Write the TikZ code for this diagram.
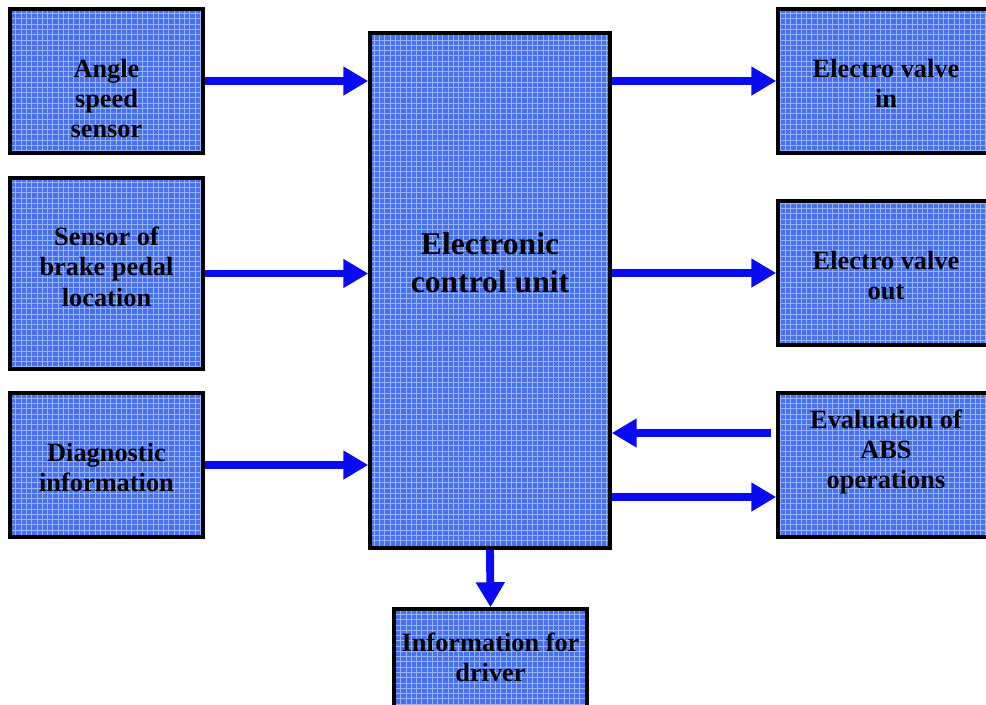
\documentclass[tikz,border=0pt]{standalone}
\usepackage{fontspec}
\setmainfont{Liberation Serif}
\usetikzlibrary{
	arrows.meta,
	patterns,
	positioning,
}
\definecolor{boxblue}{RGB}{72,112,235}
\definecolor{gridblue}{RGB}{150,180,255}
\definecolor{arrowblue}{RGB}{10,10,245}
\tikzset{block node/.style={
	draw=black,
	rectangle,
	line width=2pt,
	preaction={fill=boxblue},
	pattern=grid,
	pattern color=gridblue,
	minimum width=3.86cm,
	minimum height=2.88cm,
}}
\tikzset{block text/.style={
	align=center,
	inner sep=0pt,
	font=\fontsize{15}{17.3}\selectfont\bfseries,
}}
\tikzset{flow arrow/.style={
	draw=arrowblue,
	line width=4.5pt,
	-{Triangle[length=0.5cm,width=0.55cm]},
}}

\begin{document}
\begin{tikzpicture}[x=0.02cm,y=-0.02cm]
\useasboundingbox (0,0) rectangle (986,704);
\clip (0,0) rectangle (986,704);

% inputs
\node[block node] (angle) at (106.5,81) {};
\node[block node, minimum height=3.82cm] (brake) at (106.5,273.5) {};
\node[block node] (diag) at (106.5,465) {};

% control unit
\node[block node, minimum width=4.8cm, minimum height=10.3cm] (ecu) at (490,290.5) {};

% outputs
\node[block node, minimum width=4.32cm] (vin) at (886,81) {};
\node[block node, minimum width=4.32cm] (vout) at (886,273) {};
\node[block node, minimum width=4.32cm] (abs) at (886,465) {};
\node[block node, minimum height=2cm] (driver) at (490.5,659) {};

% texts
\node[block text] (angletext) at (106.5,98.5) {Angle\\speed\\sensor};
\node[block text] (braketext) at (106.5,266.5) {Sensor of\\brake pedal\\location};
\node[block text] (diagtext) at (106.5,467.5) {Diagnostic\\information};
\node[block text, font=\fontsize{18}{21.5}\selectfont\bfseries] (ecutext) at (490,263) {Electronic\\control unit};
\node[block text] (vintext) at (886,83.5) {Electro valve\\in};
\node[block text] (vouttext) at (886,275.5) {Electro valve\\out};
\node[block text] (abstext) at (886,452) {Evaluation of\\ABS\\operations};
\node[block text] (drivertext) at (490.5,657.5) {Information for\\driver};

\foreach \u in {angle,brake,diag}{
	\draw[flow arrow] (\u.east) -- (\u.east -| ecu.west);
}
\foreach \v in {vin,vout}{
	\draw[flow arrow] (\v.west -| ecu.east) -- (\v.west);
}

\coordinate (absin) at ([xshift=-0.1cm,yshift=0.64cm]abs.west);
\coordinate (absout) at ([yshift=-0.64cm]abs.west);
\draw[flow arrow] (absin) -- (absin -| ecu.east);
\draw[flow arrow] (absout -| ecu.east) -- (absout);
\draw[flow arrow] (ecu.south) -- (driver.north);

\end{tikzpicture}
\end{document}
